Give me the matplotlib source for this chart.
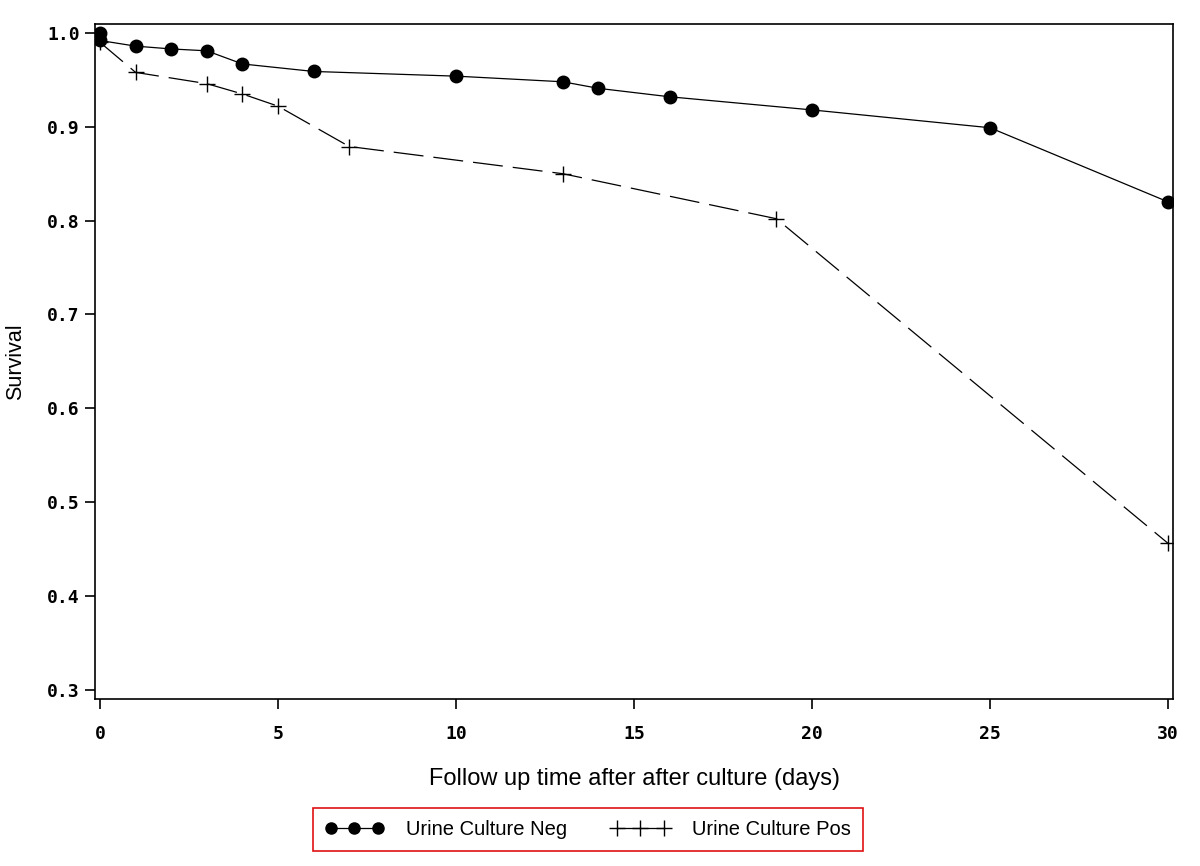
import numpy as np
import matplotlib.pyplot as plt
from matplotlib.lines import Line2D

# Kaplan-Meier style survival estimates
neg_days = [0, 0, 1, 2, 3, 4, 6, 10, 13, 14, 16, 20, 25, 30]
neg_surv = [1.0, 0.992, 0.986, 0.983, 0.981, 0.967, 0.959, 0.954, 0.948, 0.941, 0.932, 0.918, 0.899, 0.820]

pos_days = [0, 1, 3, 4, 5, 7, 13, 19, 30]
pos_surv = [0.990, 0.958, 0.946, 0.935, 0.922, 0.879, 0.850, 0.802, 0.456]

x_ticks = [0, 5, 10, 15, 20, 25, 30]
y_ticks = [0.3, 0.4, 0.5, 0.6, 0.7, 0.8, 0.9, 1.0]

fig = plt.figure(figsize=(12, 8.66), dpi=100)
ax = fig.add_axes([0.0792, 0.1928, 0.8983, 0.7795])

ax.plot(neg_days, neg_surv, color="black", lw=0.9, marker="o", ms=9,
        mfc="black", mec="black", zorder=3)
ax.plot(pos_days, pos_surv, color="black", lw=0.9, marker="+", ms=11,
        mew=1.0, dashes=(24, 8), zorder=3)

ax.set_xlim(-0.14, 30.14)
ax.set_ylim(0.290, 1.0096)
ax.set_xticks(x_ticks)
ax.set_yticks(y_ticks)
ax.set_xticklabels([str(t) for t in x_ticks], family="DejaVu Sans Mono",
                   fontweight="bold", fontsize=13)
ax.set_yticklabels(["%.1f" % t for t in y_ticks], family="DejaVu Sans Mono",
                   fontweight="bold", fontsize=13)
ax.tick_params(direction="out", length=7, width=1.2)
ax.tick_params(axis="x", pad=12)
ax.tick_params(axis="y", pad=4)
for s in ax.spines.values():
    s.set_linewidth(1.2)

ax.set_xlabel("Follow up time after after culture (days)", family="Liberation Sans",
              fontsize=17, labelpad=18)
ax.set_ylabel("Survival", family="Liberation Sans", fontsize=15.5, labelpad=15)

handles = [
    Line2D([], [], color="black", lw=0.9, marker="o", ms=8),
    Line2D([], [], color="black", lw=0.9, marker="+", ms=11, mew=1.0),
]
leg = fig.legend(handles, ["Urine Culture Neg", "Urine Culture Pos"],
                 loc="center", bbox_to_anchor=(0.49, 0.042), ncol=2,
                 numpoints=3, handlelength=2.9, handletextpad=1.1,
                 columnspacing=2.2,
                 prop={"family": "Liberation Sans", "size": 14.5},
                 fancybox=False, edgecolor="#e01010", framealpha=1,
                 borderpad=0.6)
leg.get_frame().set_linewidth(1.2)

fig.savefig("out.png", dpi=100)
